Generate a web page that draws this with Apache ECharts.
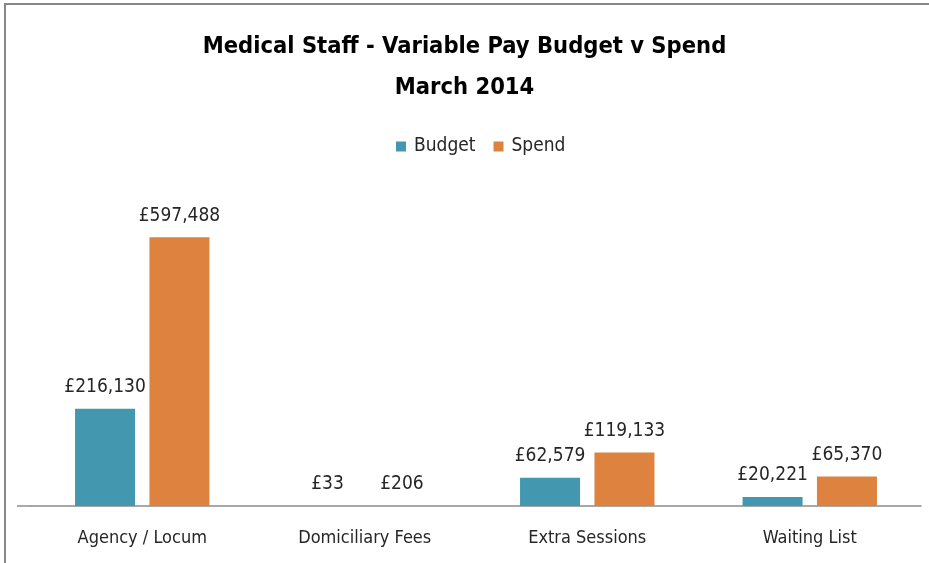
<!DOCTYPE html>
<html><head><meta charset="utf-8">
<script src="https://cdn.jsdelivr.net/npm/echarts@6/dist/echarts.min.js"></script>
<style>html,body{margin:0;padding:0;background:#fff}#c{width:929px;height:563px}</style>
</head><body><div id="c"></div>
<script>
const categories = ["Agency / Locum", "Domiciliary Fees", "Extra Sessions", "Waiting List"];
const budget = [216130, 33, 62579, 20221];
const spend = [597488, 206, 119133, 65370];
const seriesNames = ["Budget", "Spend"];
const titleLines = ["Medical Staff - Variable Pay Budget v Spend", "March 2014"];

const FONT = '"Liberation Sans Narrow", "DejaVu Sans Condensed", "Open Sans", sans-serif';
const chart = echarts.init(document.getElementById('c'), null, {renderer: 'canvas'});
const fmt = v => '£' + v.value.toLocaleString('en-GB');
const lbl = {show: true, position: 'top', distance: 12, formatter: fmt, color: '#262626', fontSize: 19, fontFamily: FONT};
chart.setOption({
  animation: false,
  backgroundColor: '#fff',
  title: {
    text: titleLines.join('\n'), left: 'center', top: 21,
    textStyle: {fontFamily: FONT, fontWeight: 'bold', fontSize: 23.5, color: '#000', lineHeight: 41}
  },
  legend: {
    data: seriesNames, top: 132, left: 391, itemWidth: 10, itemHeight: 10, itemGap: 18,
    icon: 'rect', textStyle: {fontFamily: FONT, fontSize: 19, color: '#262626', padding: [0, 0, 0, 3]}
  },
  grid: {left: 31, right: 8, top: 191, bottom: 57, containLabel: false},
  xAxis: {
    type: 'category', data: categories,
    axisLine: {lineStyle: {color: '#8c8c8c', width: 1.5}},
    axisTick: {show: false},
    axisLabel: {fontFamily: FONT, fontSize: 18, color: '#262626', margin: 23}
  },
  yAxis: {type: 'value', min: 0, max: 700000, show: false, splitLine: {show: false}},
  series: [
    {name: seriesNames[0], type: 'bar', data: budget, barWidth: 60, barGap: '24%', itemStyle: {color: '#4398B0'}, label: lbl},
    {name: seriesNames[1], type: 'bar', data: spend, barWidth: 60, itemStyle: {color: '#DE823F'}, label: lbl}
  ],
  graphic: [
    {type: 'rect', shape: {x: 5, y: 4, width: 940, height: 580}, style: {fill: 'none', stroke: '#878787', lineWidth: 2}, silent: true},
    {type: 'line', shape: {x1: 17, y1: 506, x2: 31, y2: 506}, style: {stroke: '#8c8c8c', lineWidth: 1.5}, silent: true}
  ]
});
</script></body></html>
